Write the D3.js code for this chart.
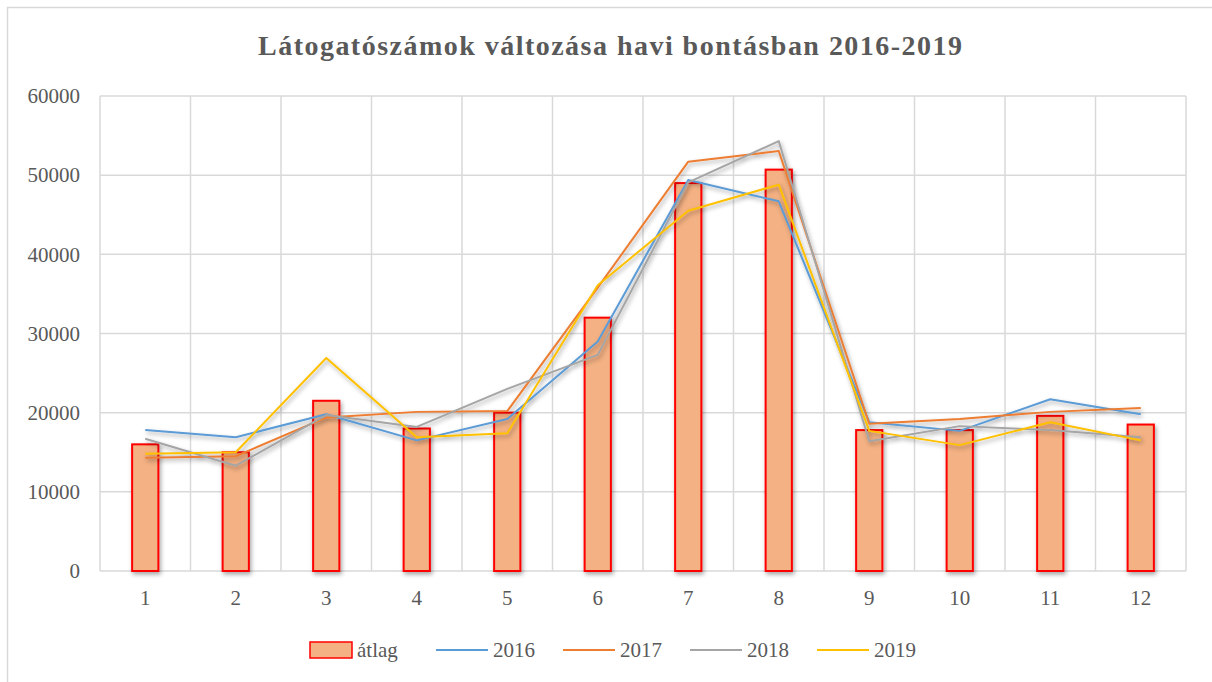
<!DOCTYPE html>
<html><head><meta charset="utf-8">
<script src="https://cdn.jsdelivr.net/npm/d3@7"></script>
<style>
body{margin:0;background:#fff;}
text{font-family:"Liberation Serif","DejaVu Serif",serif;}
</style></head>
<body>
<svg id="c" width="1212" height="682"></svg>
<script>
const categories = ["1","2","3","4","5","6","7","8","9","10","11","12"];
const atlag = [16000,15000,21500,18000,20000,32000,49000,50700,17800,17800,19600,18500];
const y2016 = [17800,16900,19800,16500,19200,29000,49400,46700,18800,17700,21700,19800];
const y2017 = [14300,14500,19400,20100,20200,35800,51700,53050,18600,19200,20100,20600];
const y2018 = [16700,13300,19700,18200,23000,27300,49100,54300,16400,18300,17800,16900];
const y2019 = [14800,15000,26900,16900,17400,36100,45500,48800,17700,15900,18800,16500];
const yTicks = [0,10000,20000,30000,40000,50000,60000];
const seriesNames = ["2016","2017","2018","2019"];
const seriesData = [y2016,y2017,y2018,y2019];
const seriesColors = ["#5B9BD5","#ED7D31","#A5A5A5","#FFC000"];

const FONT = '"Liberation Serif","DejaVu Serif",serif';
const svg = d3.select("#c");
const defs = svg.append("defs");
const f = defs.append("filter").attr("id","sh").attr("x","-20%").attr("y","-20%").attr("width","140%").attr("height","140%");
f.append("feDropShadow").attr("dx",1.5).attr("dy",2.5).attr("stdDeviation",2.2).attr("flood-color","#000").attr("flood-opacity",0.35);

// outer border
svg.append("rect").attr("x",7.5).attr("y",7.5).attr("width",1220).attr("height",700)
  .attr("fill","none").attr("stroke","#D9D9D9").attr("stroke-width",1.5);

const L=100, R=1186, T=96, B=571;
const x = d3.scaleBand().domain(categories).range([L,R]);
const y = d3.scaleLinear().domain([0,60000]).range([B,T]);

svg.append("text").attr("x",610).attr("y",55).attr("text-anchor","middle")
  .attr("font-size",28).attr("font-weight","bold").attr("fill","#595959")
  .attr("textLength",704).attr("lengthAdjust","spacing")
  .style("font-family",FONT)
  .text("Látogatószámok változása havi bontásban 2016-2019");

// grid
const g = svg.append("g");
g.selectAll(".hg").data(yTicks).enter().append("line")
  .attr("x1",L).attr("x2",R).attr("y1",d=>y(d)).attr("y2",d=>y(d))
  .attr("stroke","#D9D9D9").attr("stroke-width",1.5);
const vb = categories.map(c=>x(c)).concat([R]);
g.selectAll(".vg").data(vb).enter().append("line")
  .attr("x1",d=>d).attr("x2",d=>d).attr("y1",T).attr("y2",B)
  .attr("stroke","#D9D9D9").attr("stroke-width",1.5);

// y axis labels
const ya = svg.append("g").attr("transform",`translate(${L-20},0)`)
  .call(d3.axisLeft(y).tickValues(yTicks).tickSize(0).tickPadding(0).tickFormat(d3.format("d")));
ya.select(".domain").remove();
ya.selectAll("text").attr("font-size",21).attr("fill","#595959").style("font-family",FONT);

// x axis labels
const xa = svg.append("g").attr("transform",`translate(0,${B+17})`)
  .call(d3.axisBottom(x).tickSize(0).tickPadding(0));
xa.select(".domain").remove();
xa.selectAll("text").attr("font-size",21).attr("fill","#595959").attr("dy","0.8em").style("font-family",FONT);

// bars
const bw = x.bandwidth()*0.29;
svg.append("g").attr("filter","url(#sh)").selectAll("rect").data(atlag).enter().append("rect")
  .attr("x",(d,i)=>x(categories[i])+x.bandwidth()/2-bw/2)
  .attr("y",d=>y(d)).attr("width",bw).attr("height",d=>B-y(d))
  .attr("fill","#F4B183").attr("stroke","#FF0000").attr("stroke-width",2);

// lines
const line = d3.line().x((d,i)=>x(categories[i])+x.bandwidth()/2).y(d=>y(d));
const lg = svg.append("g").attr("filter","url(#sh)");
seriesData.forEach((s,k)=>{
  lg.append("path").attr("d",line(s)).attr("fill","none")
    .attr("stroke",seriesColors[k]).attr("stroke-width",2).attr("stroke-linejoin","round");
});

// legend
const leg = svg.append("g");
const ly = 650;
leg.append("rect").attr("x",310).attr("y",ly-8).attr("width",42).attr("height",16)
  .attr("fill","#F4B183").attr("stroke","#FF0000").attr("stroke-width",1.5);
leg.append("text").attr("x",357).attr("y",ly).attr("dy","0.35em").attr("font-size",21).attr("fill","#595959").style("font-family",FONT).text("átlag");
const lx = [436,563,690,817];
seriesNames.forEach((n,k)=>{
  leg.append("line").attr("x1",lx[k]).attr("x2",lx[k]+52).attr("y1",ly).attr("y2",ly)
    .attr("stroke",seriesColors[k]).attr("stroke-width",2);
  leg.append("text").attr("x",lx[k]+57).attr("y",ly).attr("dy","0.35em").attr("font-size",21).attr("fill","#595959").style("font-family",FONT).text(n);
});
</script>
</body></html>
